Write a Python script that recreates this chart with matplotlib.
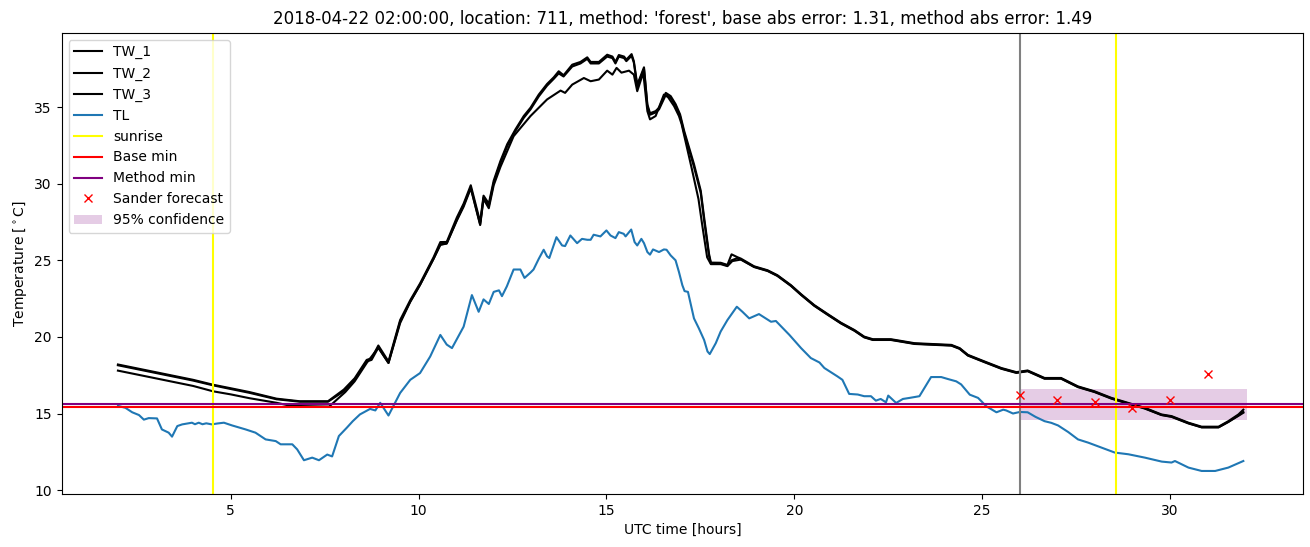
import matplotlib
matplotlib.use("Agg")
import matplotlib.pyplot as plt

# wet-bulb / dry temperature series, hours since 2018-04-22 00:00 UTC
hours_tw = [2.0, 2.5, 3.0, 3.5, 4.0, 4.53, 5.0, 5.5, 6.22, 6.84, 7.59, 8.01, 8.3,
            8.62, 8.75, 8.93, 9.2, 9.51, 9.78, 10.04, 10.4, 10.58, 10.75, 11.02,
            11.2, 11.39, 11.64, 11.73, 11.87, 12.0, 12.18, 12.36, 12.58, 12.8,
            12.98, 13.2, 13.42, 13.6, 13.73, 13.86, 14.09, 14.31, 14.49, 14.58,
            14.8, 15.02, 15.16, 15.24, 15.33, 15.47, 15.53, 15.67, 15.73, 15.82,
            15.89, 16.0, 16.09, 16.16, 16.31, 16.4, 16.58, 16.71, 16.84, 16.96,
            17.07, 17.33, 17.51, 17.6, 17.73, 17.78, 18.04, 18.22, 18.33, 18.49,
            18.58, 18.93, 19.29, 19.55, 19.91, 20.18, 20.53, 20.89, 21.24, 21.6,
            21.86, 22.09, 22.57, 22.84, 23.2, 23.73, 24.18, 24.4, 24.62, 25.06,
            25.51, 25.91, 26.21, 26.66, 27.1, 27.55, 27.99, 28.44, 28.89, 29.33,
            29.77, 30.04, 30.49, 30.84, 31.29, 31.55, 31.82, 31.95]
tw_2 = [18.2, 17.95, 17.7, 17.45, 17.2, 16.88, 16.65, 16.4, 15.97, 15.8, 15.8, 16.56, 17.3,
        18.5, 18.6, 19.44, 18.4, 21.1, 22.4, 23.49, 25.2, 26.19, 26.2, 27.8,
        28.7, 29.9, 27.5, 29.22, 28.7, 30.2, 31.49, 32.58, 33.55, 34.42,
        34.96, 35.82, 36.51, 36.95, 37.34, 37.08, 37.77, 37.95, 38.25, 37.95,
        37.95, 38.42, 38.3, 37.95, 38.4, 38.3, 38.1, 38.46, 38.0, 36.47,
        36.9, 37.6, 35.18, 34.6, 34.74, 34.96, 35.93, 35.72, 35.2, 34.53,
        33.44, 31.28, 29.55, 27.81, 25.43, 24.85, 24.84, 24.7, 25.39, 25.2,
        25.11, 24.61, 24.35, 24.03, 23.38, 22.79, 22.08, 21.49, 20.93, 20.45,
        20.02, 19.85, 19.85, 19.74, 19.59, 19.53, 19.48, 19.27, 18.83, 18.4,
        17.97, 17.7, 17.81, 17.32, 17.32, 16.77, 16.45, 16.02, 15.69, 15.37,
        14.94, 14.83, 14.4, 14.14, 14.14, 14.5, 14.94, 15.25]
tw_3 = [18.15, 17.9, 17.65, 17.4, 17.15, 16.84, 16.6, 16.35, 15.93, 15.77, 15.77, 16.45, 17.2,
        18.4, 18.5, 19.3, 18.3, 21.0, 22.3, 23.4, 25.1, 26.05, 26.1, 27.65,
        28.6, 29.75, 27.35, 29.1, 28.55, 30.05, 31.35, 32.45, 33.45, 34.3,
        34.85, 35.7, 36.4, 36.85, 37.2, 37.0, 37.65, 37.85, 38.15, 37.85,
        37.85, 38.3, 38.2, 37.85, 38.3, 38.2, 38.0, 38.35, 37.9, 36.35,
        36.8, 37.5, 35.05, 34.5, 34.65, 34.85, 35.8, 35.6, 35.1, 34.4,
        33.3, 31.1, 29.4, 27.6, 25.3, 24.8, 24.8, 24.65, 25.0, 25.15,
        25.05, 24.56, 24.3, 23.98, 23.33, 22.74, 22.03, 21.44, 20.88, 20.4,
        19.97, 19.8, 19.8, 19.69, 19.54, 19.48, 19.43, 19.22, 18.78, 18.35,
        17.92, 17.65, 17.76, 17.27, 17.27, 16.72, 16.4, 15.97, 15.64, 15.32,
        14.9, 14.78, 14.35, 14.1, 14.1, 14.45, 14.85, 15.05]

hours_tw1 = [2.0, 2.5, 3.0, 3.5, 4.0, 4.53, 5.0, 5.5, 6.22, 6.6, 7.62, 8.05, 8.3, 8.62,
             8.93, 9.2, 9.51, 9.78, 10.04, 10.4, 10.58, 10.75, 11.02, 11.2, 11.39,
             11.64, 11.73, 11.87, 12.0, 12.18, 12.53, 12.98, 13.42, 13.78, 13.9,
             14.09, 14.4, 14.58, 14.8, 15.02, 15.16, 15.27, 15.4, 15.6, 15.73,
             15.82, 15.98, 16.09, 16.16, 16.31, 16.53, 16.64, 16.8, 16.93, 17.0,
             17.27, 17.45, 17.55, 17.68, 17.78, 18.04, 18.22, 18.35, 18.58, 18.93,
             19.29, 19.55, 19.91, 20.18, 20.53, 20.89, 21.24, 21.6, 21.86, 22.09,
             22.57, 22.84, 23.2, 23.73, 24.18, 24.4, 24.62, 25.06, 25.51, 25.91,
             26.21, 26.66, 27.1, 27.55, 27.99, 28.44, 28.89, 29.33, 29.77, 30.04,
             30.49, 30.84, 31.29, 31.55, 31.82, 31.95]
tw_1 = [17.8, 17.55, 17.3, 17.05, 16.8, 16.45, 16.25, 16.0, 15.7, 15.5, 15.45, 16.4, 17.1, 18.3,
        19.3, 18.3, 20.9, 22.3, 23.4, 25.1, 26.0, 26.1, 27.6, 28.5, 29.7,
        27.3, 29.0, 28.4, 29.9, 31.1, 33.1, 34.42, 35.5, 36.08, 35.93,
        36.47, 36.9, 36.69, 36.8, 37.38, 37.12, 37.56, 37.25, 37.38, 37.12,
        36.04, 37.25, 34.74, 34.2, 34.42, 35.82, 35.65, 35.07, 34.42, 33.9,
        31.0, 29.0, 27.3, 25.2, 24.75, 24.75, 24.62, 24.95, 25.05, 24.58,
        24.32, 24.0, 23.35, 22.76, 22.05, 21.46, 20.9, 20.42, 19.99, 19.82,
        19.82, 19.71, 19.56, 19.5, 19.45, 19.24, 18.8, 18.37, 17.94, 17.67,
        17.78, 17.29, 17.29, 16.74, 16.42, 15.99, 15.66, 15.34, 14.91, 14.8,
        14.37, 14.1, 14.1, 14.45, 14.88, 15.1]

hours_tl = [2.0, 2.2, 2.38, 2.56, 2.69, 2.82, 3.04, 3.17, 3.35, 3.44, 3.58, 3.71, 3.97,
            4.05, 4.15, 4.25, 4.35, 4.5, 4.65, 4.82, 5.04, 5.4, 5.66, 5.93, 6.2, 6.33,
            6.64, 6.77, 6.95, 7.17, 7.35, 7.57, 7.7, 7.88, 8.09, 8.25, 8.44, 8.71,
            8.85, 8.98, 9.2, 9.51, 9.78, 10.04, 10.31, 10.58, 10.75, 10.89, 11.2,
            11.42, 11.6, 11.73, 11.87, 12.0, 12.14, 12.22, 12.35, 12.53, 12.71,
            12.82, 12.98, 13.06, 13.2, 13.33, 13.42, 13.48, 13.67, 13.82, 13.9,
            14.04, 14.22, 14.35, 14.49, 14.58, 14.66, 14.84, 15.0, 15.11, 15.24,
            15.33, 15.46, 15.51, 15.66, 15.75, 15.82, 15.93, 16.0, 16.09, 16.16,
            16.24, 16.4, 16.53, 16.6, 16.71, 16.84, 16.93, 17.02, 17.08, 17.17,
            17.33, 17.46, 17.6, 17.69, 17.75, 17.91, 18.04, 18.22, 18.47, 18.62,
            18.8, 19.06, 19.24, 19.38, 19.51, 19.87, 20.18, 20.44, 20.67, 20.8,
            21.15, 21.28, 21.46, 21.69, 21.86, 22.04, 22.17, 22.3, 22.44, 22.5,
            22.71, 22.89, 23.07, 23.33, 23.64, 23.91, 24.09, 24.31, 24.44, 24.67,
            24.89, 24.98, 25.11, 25.38, 25.56, 25.64, 25.82, 26.0, 26.21, 26.42,
            26.66, 26.84, 27.02, 27.29, 27.55, 27.82, 28.18, 28.53, 28.89, 29.33,
            29.78, 30.04, 30.13, 30.49, 30.84, 31.2, 31.55, 31.95]
tl = [15.5, 15.37, 15.08, 14.9, 14.6, 14.7, 14.68, 13.96, 13.75, 13.49, 14.18, 14.29, 14.4,
      14.3, 14.4, 14.3, 14.36, 14.29, 14.35, 14.4, 14.22, 13.96, 13.75, 13.31, 13.2, 12.99,
      12.99, 12.66, 11.95, 12.12, 11.95, 12.32, 12.2, 13.53, 14.07, 14.5, 14.94, 15.3,
      15.2, 15.7, 14.87, 16.34, 17.2, 17.64, 18.72, 20.13, 19.5, 19.27, 20.67,
      22.73, 21.64, 22.45, 22.15, 22.94, 23.04, 22.66, 23.3, 24.4, 24.4,
      23.85, 24.2, 24.4, 25.1, 25.69, 25.26, 25.15, 26.51, 25.97, 25.93,
      26.62, 26.12, 26.4, 26.34, 26.34, 26.67, 26.56, 26.95, 26.62, 26.45,
      26.84, 26.73, 26.56, 27.01, 26.19, 25.97, 26.4, 26.12, 25.54, 25.37,
      25.71, 25.54, 25.71, 25.69, 25.32, 25.0, 24.24, 23.38, 22.99, 22.94,
      21.21, 20.56, 19.8, 19.05, 18.88, 19.59, 20.35, 21.1, 21.97, 21.64,
      21.21, 21.49, 21.21, 20.99, 21.04, 20.13, 19.27, 18.62, 18.33, 17.97,
      17.42, 17.2, 16.28, 16.24, 16.13, 16.13, 15.84, 15.95, 15.73, 16.17,
      15.69, 15.95, 16.02, 16.13, 17.38, 17.38, 17.25, 17.1, 16.9, 16.23,
      16.02, 15.8, 15.47, 15.08, 15.25, 15.2, 15.0, 15.1, 15.08, 14.78,
      14.5, 14.39, 14.22, 13.79, 13.31, 13.1, 12.77, 12.45, 12.34, 12.12,
      11.86, 11.8, 11.9, 11.47, 11.25, 11.25, 11.47, 11.9]

sunrise_hours = [4.54, 28.56]
forecast_start = 26.0
base_min = 15.43
method_min = 15.6

forecast_hours = [26, 27, 28, 29, 30, 31]
forecast_temp = [16.23, 15.91, 15.76, 15.37, 15.91, 17.6]

conf_hours = [26.0, 32.04]
conf_low = [14.6, 14.6]
conf_high = [16.62, 16.62]

title = ("2018-04-22 02:00:00, location: 711, method: 'forest', "
         "base abs error: 1.31, method abs error: 1.49")

fig, ax = plt.subplots(figsize=(13.1, 5.47), dpi=100)
fig.subplots_adjust(left=0.047, right=0.995, top=0.94, bottom=0.097)

ax.plot(hours_tw1, tw_1, color='black', label='TW_1')
ax.plot(hours_tw, tw_2, color='black', label='TW_2')
ax.plot(hours_tw, tw_3, color='black', label='TW_3')
ax.plot(hours_tl, tl, color='C0', label='TL')

ax.axvline(sunrise_hours[0], color='yellow', label='sunrise')
ax.axvline(sunrise_hours[1], color='yellow')
ax.axvline(forecast_start, color='gray')

ax.axhline(base_min, color='red', label='Base min')
ax.axhline(method_min, color='purple', label='Method min')

ax.plot(forecast_hours, forecast_temp, 'x', color='red', label='Sander forecast')
ax.fill_between(conf_hours, conf_low, conf_high, color='purple', alpha=0.2,
                linewidth=0, label='95% confidence')

ax.set_xlim(0.5, 33.55)
ax.set_ylim(9.75, 39.85)
ax.set_title(title)
ax.set_xlabel('UTC time [hours]')
ax.set_ylabel(r'Temperature [$^\circ$C]')
ax.legend(loc='upper left')

fig.savefig('out.png')
